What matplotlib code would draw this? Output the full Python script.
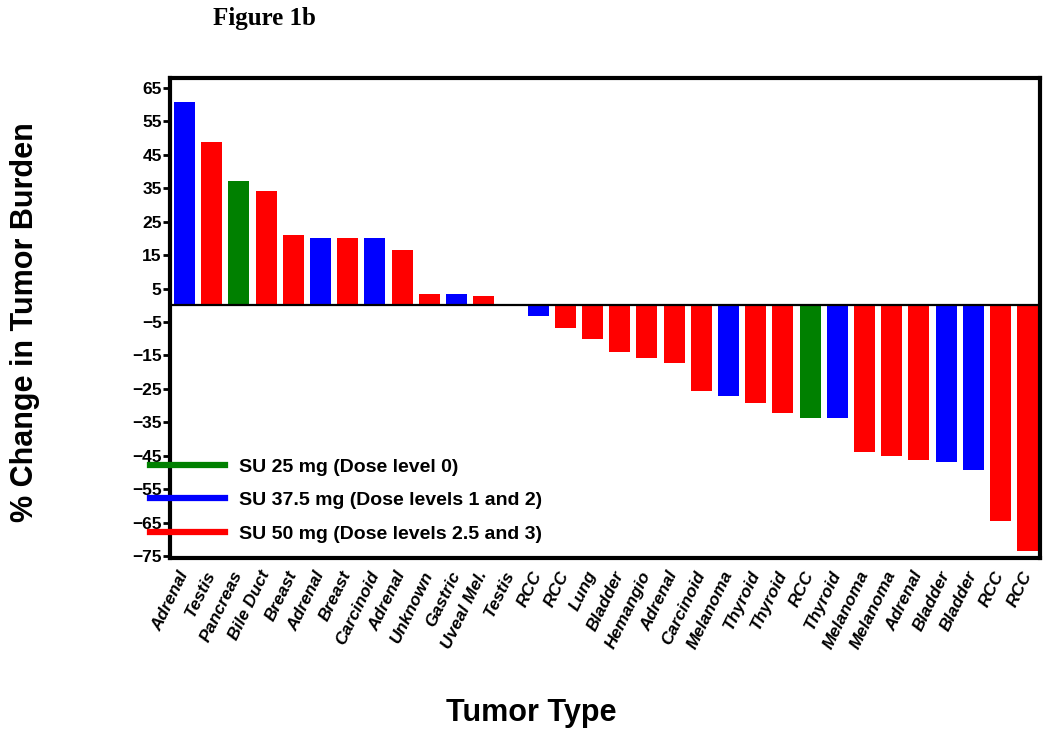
import matplotlib
matplotlib.use('Agg')
import matplotlib.pyplot as plt
from matplotlib.lines import Line2D
import numpy as np

# tumor type per patient, sorted by change
tumors = ['Adrenal', 'Testis', 'Pancreas', 'Bile Duct', 'Breast', 'Adrenal', 'Breast',
          'Carcinoid', 'Adrenal', 'Unknown', 'Gastric', 'Uveal Mel.', 'Testis', 'RCC',
          'RCC', 'Lung', 'Bladder', 'Hemangio', 'Adrenal', 'Carcinoid', 'Melanoma',
          'Thyroid', 'Thyroid', 'RCC', 'Thyroid', 'Melanoma', 'Melanoma', 'Adrenal',
          'Bladder', 'Bladder', 'RCC', 'RCC']
change = [60.7, 49.0, 37.1, 34.1, 20.9, 20.1, 20.1, 20.1, 16.4, 3.5, 3.5, 2.8, 0.0,
          -3.2, -6.8, -10.1, -13.9, -15.8, -17.4, -25.6, -27.2, -29.2, -32.2, -33.7,
          -33.7, -44.0, -45.1, -46.3, -47.0, -49.2, -64.5, -73.5]
# dose group: 0 = 25 mg, 1 = 37.5 mg, 2 = 50 mg
dose = [1, 2, 0, 2, 2, 1, 2, 1, 2, 2, 1, 2, 2, 1, 2, 2, 2, 2, 2, 2, 1, 2, 2, 0, 1,
        2, 2, 2, 1, 1, 2, 2]
dose_labels = ['SU 25 mg (Dose level 0)', 'SU 37.5 mg (Dose levels 1 and 2)',
               'SU 50 mg (Dose levels 2.5 and 3)']
dose_colors = ['#008000', '#0000FF', '#FF0000']
yticks = list(range(65, -76, -10))

SANS = 'Liberation Sans'

fig = plt.figure(figsize=(10.5, 7.41), dpi=100)
ax = fig.add_axes([170/1050, 1 - 558/741, 870/1050, 480/741])

x = np.arange(len(tumors))
ax.bar(x, change, width=0.77, color=[dose_colors[d] for d in dose], edgecolor='none', zorder=2)
ax.axhline(0, color='black', lw=1.6, zorder=3)

ax.set_xlim(-0.53, 31.45)
ax.set_ylim(-75.6, 68)

ax.set_yticks(yticks)
ax.set_yticklabels([f'{v}'.replace('-', '\u2212') for v in yticks],
                   fontfamily=SANS, fontweight='bold', fontsize=12.5)
ax.tick_params(axis='y', direction='out', length=5, width=2, pad=1)

ax.set_xticks(x)
ax.set_xticklabels(tumors, rotation=64, ha='right', va='center', rotation_mode='anchor',
                   fontfamily=SANS, fontweight='bold', fontstyle='italic', fontsize=12.5)
ax.tick_params(axis='x', length=0, pad=10)

for side in ['left', 'top', 'right', 'bottom']:
    ax.spines[side].set_linewidth(3)
    ax.spines[side].set_color('black')

handles = [Line2D([], [], color=c, lw=4.5) for c in dose_colors]
ax.legend(handles, dose_labels, loc='upper left', frameon=False,
          bbox_to_anchor=(150/1050, 1 - 458/741), bbox_transform=fig.transFigure,
          borderpad=0, borderaxespad=0, handlelength=3.85, handletextpad=0.72,
          labelspacing=0.82, prop={'family': SANS, 'weight': 'bold', 'size': 14})

fig.text(25/1050, 1 - 322/741, '% Change in Tumor Burden', rotation=90, ha='center', va='center',
         fontfamily=SANS, fontweight='bold', fontsize=22)
fig.text(531/1050, 1 - 713/741, 'Tumor Type', ha='center', va='center',
         fontfamily=SANS, fontweight='bold', fontsize=22)
fig.text(213/1050, 1 - 18/741, 'Figure 1b', ha='left', va='center',
         fontfamily='Liberation Serif', fontweight='bold', fontsize=18)

plt.savefig('out.png', dpi=100)
plt.close(fig)
